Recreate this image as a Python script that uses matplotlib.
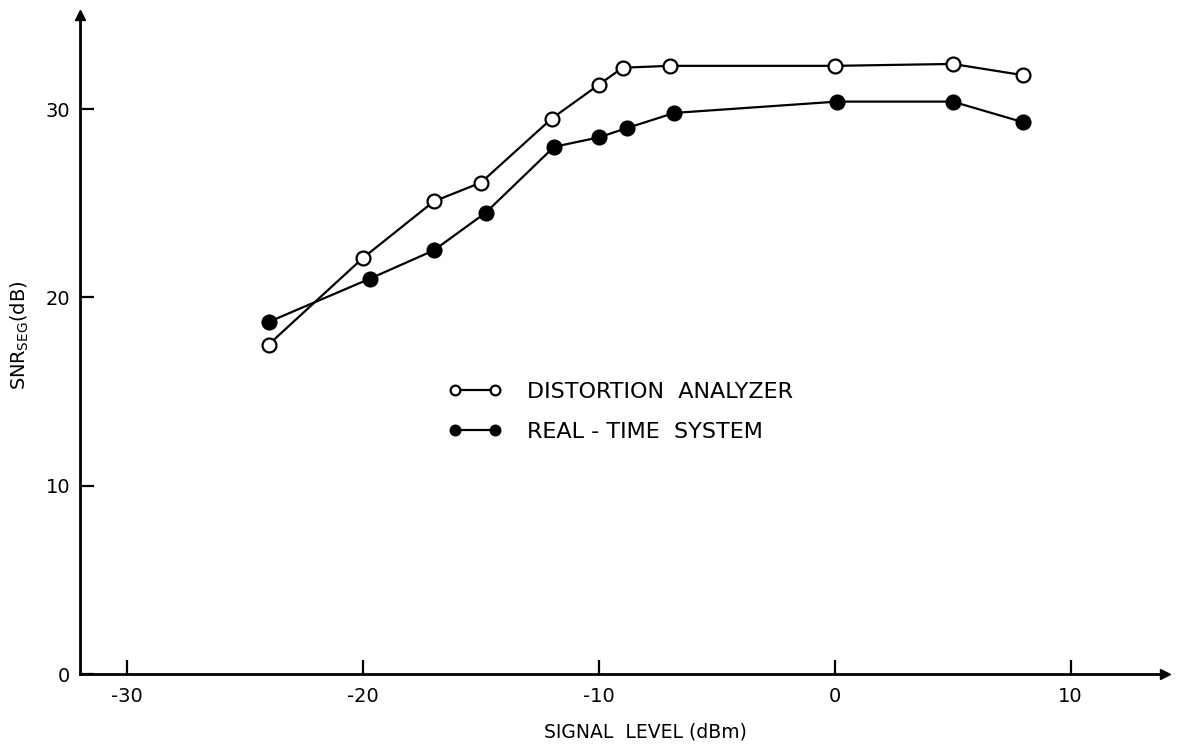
import matplotlib
matplotlib.use("Agg")
import matplotlib.pyplot as plt

# Data
x_da = [-24, -20, -17, -15, -12, -10, -9, -7, 0, 5, 8]
y_da = [17.5, 22.1, 25.1, 26.1, 29.5, 31.3, 32.2, 32.3, 32.3, 32.4, 31.8]

x_rt = [-24, -19.7, -17, -14.8, -11.9, -10, -8.8, -6.8, 0.1, 5, 8]
y_rt = [18.7, 21.0, 22.5, 24.5, 28.0, 28.5, 29.0, 29.8, 30.4, 30.4, 29.3]

xticks = [-30, -20, -10, 0, 10]
yticks = [0, 10, 20, 30]

plt.rcParams['font.family'] = ['DejaVu Sans']

W, H = 1177, 747
fig = plt.figure(figsize=(W / 100, H / 100), dpi=100)
ax = fig.add_axes([80 / W, (H - 674) / H, (1165 - 80) / W, (674 - 15) / H])

ax.plot(x_da, y_da, color='black', lw=1.6, marker='o', ms=10,
        mfc='white', mec='black', mew=1.6, label='DISTORTION  ANALYZER', zorder=3)
ax.plot(x_rt, y_rt, color='black', lw=1.6, marker='o', ms=10,
        mfc='black', mec='black', mew=1.6, label='REAL - TIME  SYSTEM', zorder=3)

ax.set_xlim(-32, 14)
ax.set_ylim(0, 35)
ax.set_xticks(xticks)
ax.set_yticks(yticks)
ax.set_xticklabels([str(v) for v in xticks])
ax.set_yticklabels([str(v) for v in yticks])

for s in ['top', 'right']:
    ax.spines[s].set_visible(False)
for s in ['left', 'bottom']:
    ax.spines[s].set_linewidth(2.0)

ax.tick_params(axis='x', direction='in', length=10, width=1.6, pad=9, labelsize=14)
ax.tick_params(axis='y', direction='in', length=10, width=1.6, pad=7, labelsize=14)

# axis arrows
ax.plot([1], [0], marker='>', color='black', ms=7, transform=ax.transAxes, clip_on=False)
ax.plot([0], [1], marker='^', color='black', ms=7, transform=ax.transAxes, clip_on=False)

fig.text(645 / W, 1 - 732 / H, 'SIGNAL  LEVEL (dBm)', ha='center', va='center', fontsize=13.5)
fig.text(20 / W, 1 - 335 / H, r'SNR$_{\mathrm{SEG}}$(dB)', ha='center', va='center',
         rotation=90, fontsize=14)

leg = ax.legend(loc='upper left', bbox_to_anchor=(448 / W, 1 - 382 / H),
                bbox_transform=fig.transFigure, frameon=False, numpoints=2,
                markerscale=0.7, fontsize=16, handlelength=2.4, handletextpad=1.15,
                labelspacing=0.88, borderpad=0, borderaxespad=0)

fig.savefig('out.png', dpi=100)
